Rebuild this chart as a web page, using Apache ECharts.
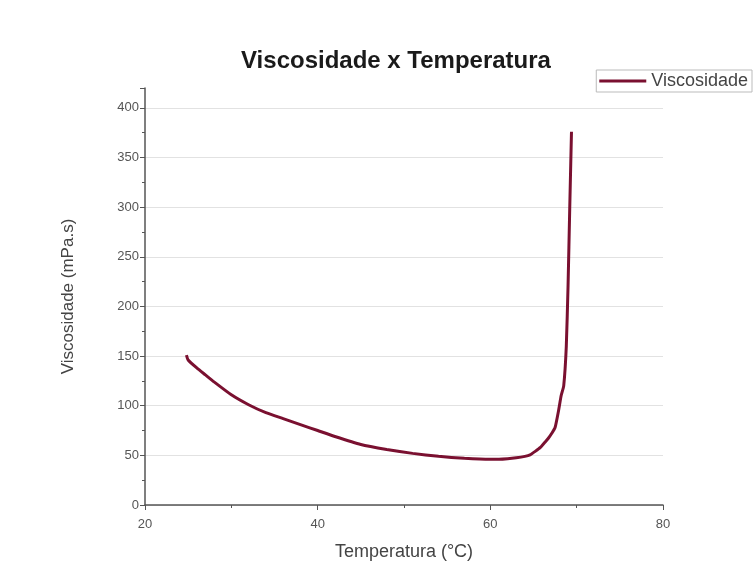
<!DOCTYPE html>
<html>
<head>
<meta charset="utf-8">
<script src="https://cdn.jsdelivr.net/npm/echarts@6/dist/echarts.min.js"></script>
<style>
  html, body { margin: 0; padding: 0; background: #fff; }
  #main { width: 755px; height: 567px; }
</style>
</head>
<body>
<div id="main"></div>
<script>
// temperatura (°C) e viscosidade (mPa.s)
const temperatura = [24.8, 25.0, 26, 27, 28, 30, 32, 34, 36, 38, 40, 42, 45, 48, 51, 54, 57, 60, 61, 62, 63, 64, 64.6, 65.2, 65.8, 66.3, 66.7, 67.1, 67.5, 67.9, 68.2, 68.5, 68.8, 69.0, 69.2, 69.4];
const viscosidade = [151, 146, 138, 131, 124, 111, 101, 93, 87, 81, 75, 69, 61, 56, 52, 49, 47, 46, 46, 46.5, 47.5, 49, 50.5, 54, 58, 63, 67, 72, 78, 95, 110, 120, 160, 220, 300, 376];

const dados = temperatura.map((t, i) => [t, viscosidade[i]]);

const font = 'Liberation Sans, Arial, sans-serif';
const chart = echarts.init(document.getElementById('main'));

chart.setOption({
  animation: false,
  title: {
    text: 'Viscosidade x Temperatura',
    left: 391,
    top: 44,
    textAlign: 'center',
    textStyle: { fontFamily: font, fontSize: 24, fontWeight: 'bold', color: '#1a1a1a' }
  },
  legend: {
    data: ['Viscosidade'],
    right: 3,
    top: 70,
    itemWidth: 47,
    itemHeight: 3,
    itemGap: 4,
    padding: [2, 4, 2, 3],
    borderColor: '#bbb',
    borderWidth: 1,
    icon: 'rect',
    textStyle: { fontFamily: font, fontSize: 18, color: '#444' }
  },
  grid: { left: 145, right: 92, top: 88, bottom: 62 },
  xAxis: {
    type: 'value',
    min: 20,
    max: 80,
    interval: 20,
    name: 'Temperatura (°C)',
    nameLocation: 'middle',
    nameGap: 38,
    nameTextStyle: { fontFamily: font, fontSize: 18, color: '#444' },
    axisLine: { show: true, lineStyle: { color: '#555', width: 1.5 } },
    axisTick: { show: true, inside: false, length: 5, lineStyle: { color: '#555' } },
    minorTick: { show: true, splitNumber: 2, length: 3, lineStyle: { color: '#555' } },
    axisLabel: { fontFamily: font, fontSize: 13, color: '#555', margin: 13 },
    splitLine: { show: false }
  },
  yAxis: {
    type: 'value',
    min: 0,
    max: 420,
    interval: 50,
    name: 'Viscosidade (mPa.s)',
    nameLocation: 'middle',
    nameGap: 68,
    nameTextStyle: { fontFamily: font, fontSize: 17, color: '#444' },
    axisLine: { show: true, lineStyle: { color: '#555', width: 1.5 } },
    axisTick: { show: true, inside: false, length: 5, lineStyle: { color: '#555' } },
    minorTick: { show: true, splitNumber: 2, length: 3, lineStyle: { color: '#555' } },
    axisLabel: { fontFamily: font, fontSize: 13, color: '#555', margin: 6, showMaxLabel: false },
    splitLine: { show: true, showMaxLine: false, lineStyle: { color: '#e2e2e2', width: 1 } }
  },
  series: [
    {
      name: 'Viscosidade',
      type: 'line',
      data: dados,
      showSymbol: false,
      smooth: 0.15,
      lineStyle: { color: '#7a1030', width: 3 },
      itemStyle: { color: '#7a1030' }
    }
  ]
});
</script>
</body>
</html>
